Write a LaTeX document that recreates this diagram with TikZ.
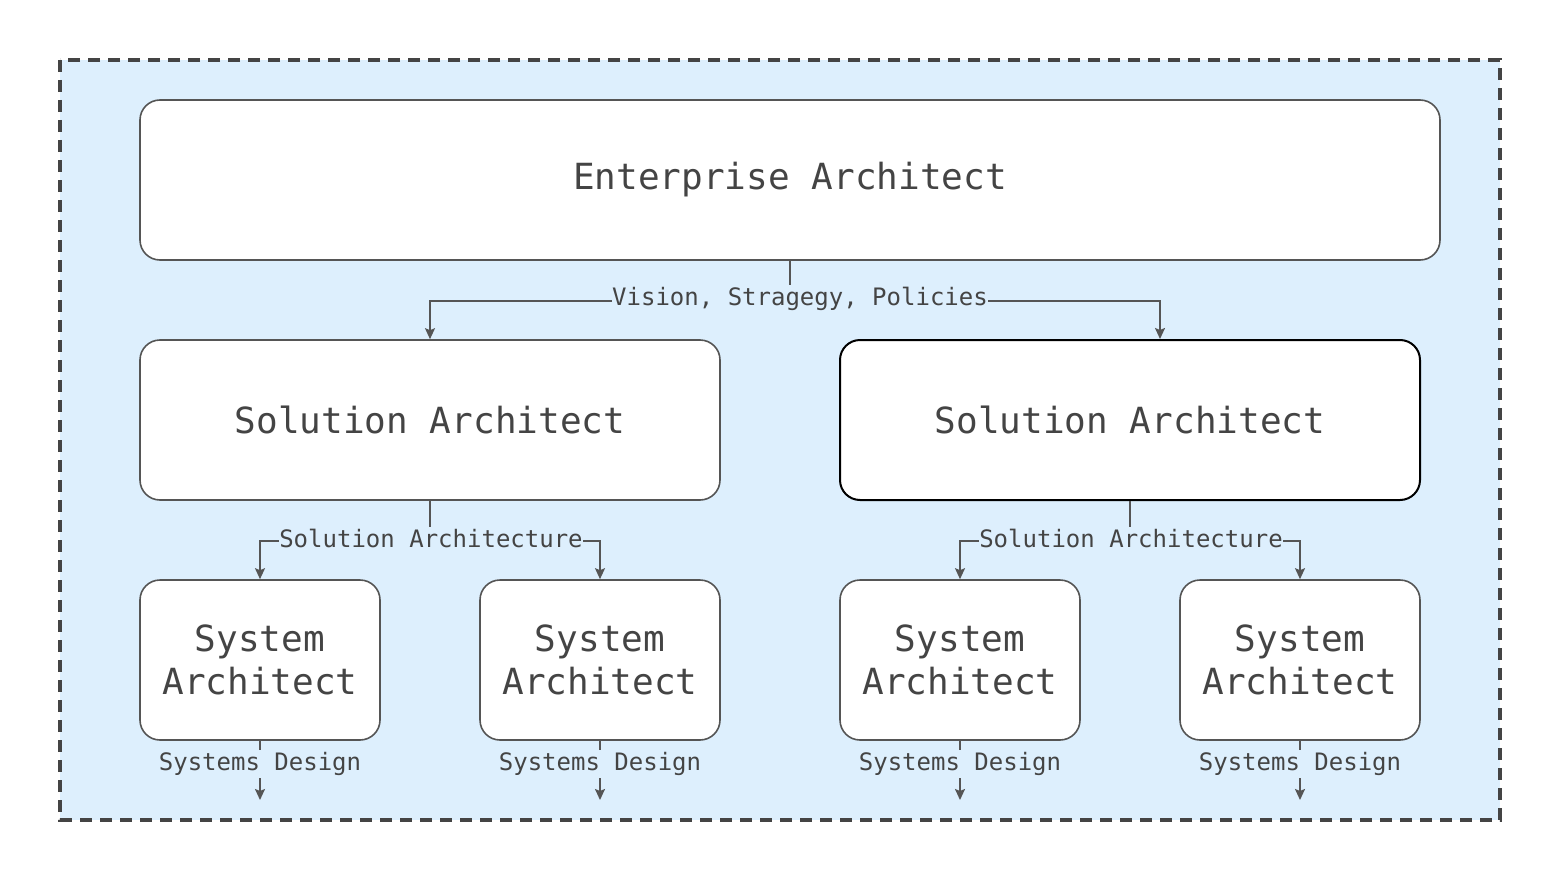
\documentclass[tikz,border=0pt]{standalone}
\usepackage{fontspec}
\usepackage{tikz}
\usetikzlibrary{arrows.meta, positioning, calc}
\newfontfamily\archmono{DejaVu Sans Mono}
\definecolor{bgblue}{HTML}{DDEFFD}
\definecolor{boxgray}{HTML}{555555}
\definecolor{txtgray}{HTML}{444444}
\definecolor{dashgray}{HTML}{444444}

\tikzset{
    archbox/.style={draw=boxgray, line width=1.6pt, fill=white, rounded corners=20pt,
        align=center, text=txtgray, inner sep=0pt,
        font=\archmono\fontsize{36}{43}\selectfont},
    flowline/.style={draw=boxgray, line width=1.8pt, -{Stealth[length=11pt, width=10pt, inset=2pt]}},
    flowlabel/.style={fill=bgblue, text=txtgray, inner xsep=0.5pt, inner ysep=2pt,
        font=\archmono\fontsize{24}{28}\selectfont}
}

\begin{document}
\begin{tikzpicture}[x=1pt, y=-1pt]
    \useasboundingbox (0,0) rectangle (1560,880);

    % Background frame
    \draw[fill=bgblue, draw=dashgray, line width=3.5pt, dash pattern=on 12pt off 8pt]
        (60,60) rectangle (1500,820);

    % Boxes
    \node[archbox, minimum width=1300pt, minimum height=160pt] (ea) at (790,180) {Enterprise Architect};
    \node[archbox, minimum width=580pt, minimum height=160pt] (solL) at (430,420) {Solution Architect};
    \node[archbox, minimum width=580pt, minimum height=160pt, draw=black, line width=2pt] (solR) at (1130,420) {Solution Architect};
    \node[archbox, minimum width=240pt, minimum height=160pt] (sysA) at (260,660) {System\\Architect};
    \node[archbox, minimum width=240pt, minimum height=160pt] (sysB) at (600,660) {System\\Architect};
    \node[archbox, minimum width=240pt, minimum height=160pt] (sysC) at (960,660) {System\\Architect};
    \node[archbox, minimum width=240pt, minimum height=160pt] (sysD) at (1300,660) {System\\Architect};

    % Free ends
    \coordinate (endA) at (260,800);
    \coordinate (endB) at (600,800);
    \coordinate (endC) at (960,800);
    \coordinate (endD) at (1300,800);

    % Connectors
    \draw[flowline] (ea.south) -- ++(0,40) -| (solL.north);
    \draw[flowline] (ea.south) -- ++(0,40) -| ($(solR.north)+(30,0)$);
    \draw[flowline] (solL.south) -- ++(0,40) -| (sysA.north);
    \draw[flowline] (solL.south) -- ++(0,40) -| (sysB.north);
    \draw[flowline] (solR.south) -- ++(0,40) -| (sysC.north);
    \draw[flowline] (solR.south) -- ++(0,40) -| (sysD.north);
    \draw[flowline] (sysA.south) -- (endA);
    \draw[flowline] (sysB.south) -- (endB);
    \draw[flowline] (sysC.south) -- (endC);
    \draw[flowline] (sysD.south) -- (endD);

    % Labels
    \node[flowlabel] (vis) at (800,299) {Vision, Stragegy, Policies};
    \node[flowlabel] (solArchL) at (431,538) {Solution Architecture};
    \node[flowlabel] (solArchR) at (1131,538) {Solution Architecture};
    \node[flowlabel] (desA) at (260,764) {Systems Design};
    \node[flowlabel] (desB) at (600,764) {Systems Design};
    \node[flowlabel] (desC) at (960,764) {Systems Design};
    \node[flowlabel] (desD) at (1300,764) {Systems Design};
\end{tikzpicture}
\end{document}
